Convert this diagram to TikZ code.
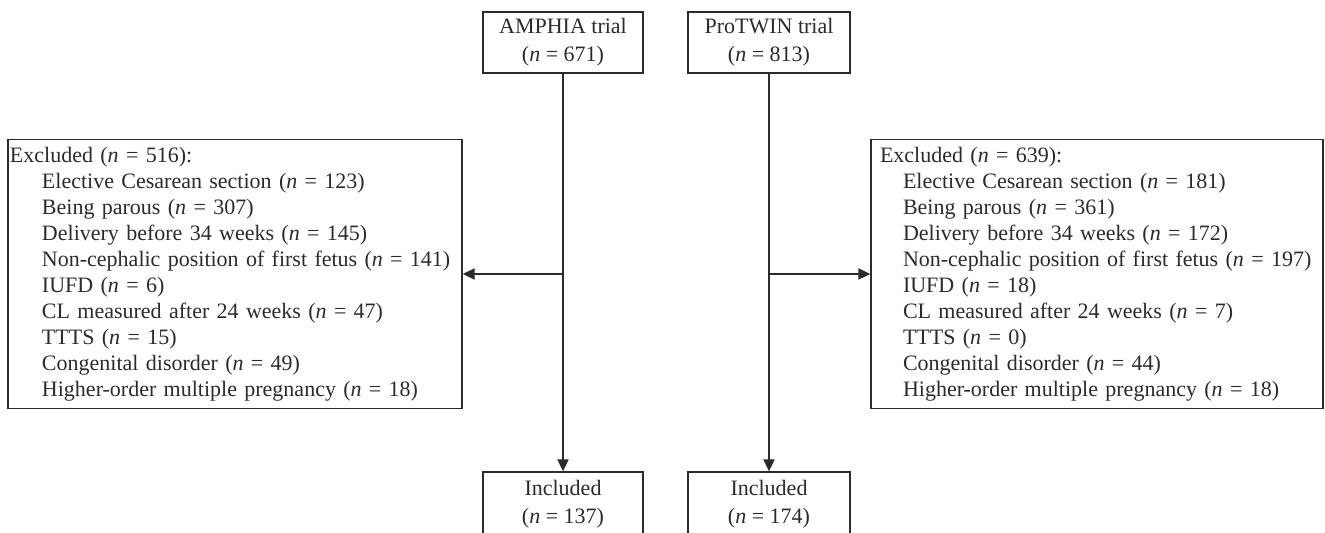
\documentclass[tikz,border=0pt]{standalone}
\usepackage{fontspec}
\setmainfont{Liberation Serif}
\usetikzlibrary{arrows.meta,positioning}
\definecolor{ink}{HTML}{2B2B2B}
\newlength{\reasonskip}
\newcommand{\nval}[1]{(\textit{n}~=~#1)}
\newcommand{\reasonind}{\hspace*{\reasonskip}}
\tikzset{
  trialbox/.style={draw=ink, line width=0.7pt, align=center, inner sep=0pt,
    minimum height=30.5pt, text=ink, font=\fontsize{11}{14}\selectfont},
  exclbox/.style={draw=ink, line width=0.7pt, align=left,
    inner ysep=0pt, minimum height=134.5pt, text=ink,
    font=\fontsize{11}{13}\selectfont,
    execute at begin node={\setlength{\reasonskip}{#1}}},
  flow/.style={draw=ink, line width=0.7pt, -{Triangle[length=6pt,width=5.6pt]}},
}
\begin{document}
\begin{tikzpicture}[x=0.5pt, y=-0.5pt]
  \useasboundingbox (0,0) rectangle (1325,533);
  % trials on top
  \node[trialbox, minimum width=80pt] (amphia) at (563,42.5) {AMPHIA trial\\\nval{671}};
  \node[trialbox, minimum width=81pt] (protwin) at (769,42.5) {ProTWIN trial\\\nval{813}};
  % exclusions, left and right
  \node[exclbox=16pt, inner xsep=1pt, text width=225pt] (exclA) at (235,274) {%
    Excluded \nval{516}:\\
    \reasonind Elective Cesarean section \nval{123}\\
    \reasonind Being parous \nval{307}\\
    \reasonind Delivery before 34 weeks \nval{145}\\
    \reasonind Non-cephalic position of first fetus \nval{141}\\
    \reasonind IUFD \nval{6}\\
    \reasonind CL measured after 24 weeks \nval{47}\\
    \reasonind TTTS \nval{15}\\
    \reasonind Congenital disorder \nval{49}\\
    \reasonind Higher-order multiple pregnancy \nval{18}};
  \node[exclbox=11.5pt, inner xsep=4.5pt, text width=217pt] (exclP) at (1097,274) {%
    Excluded \nval{639}:\\
    \reasonind Elective Cesarean section \nval{181}\\
    \reasonind Being parous \nval{361}\\
    \reasonind Delivery before 34 weeks \nval{172}\\
    \reasonind Non-cephalic position of first fetus \nval{197}\\
    \reasonind IUFD \nval{18}\\
    \reasonind CL measured after 24 weeks \nval{7}\\
    \reasonind TTTS \nval{0}\\
    \reasonind Congenital disorder \nval{44}\\
    \reasonind Higher-order multiple pregnancy \nval{18}};
  % included, cut by the page edge
  \node[trialbox, minimum width=80pt, minimum height=32pt] (inclA) at (563,504) {Included\\\nval{137}};
  \node[trialbox, minimum width=81pt, minimum height=32pt] (inclP) at (769,504) {Included\\\nval{174}};
  % connectors
  \draw[flow] (amphia) -- (inclA);
  \draw[flow] (protwin) -- (inclP);
  \draw[flow] (amphia.south |- exclA.east) -- (exclA.east);
  \draw[flow] (protwin.south |- exclP.west) -- (exclP.west);
\end{tikzpicture}
\end{document}
